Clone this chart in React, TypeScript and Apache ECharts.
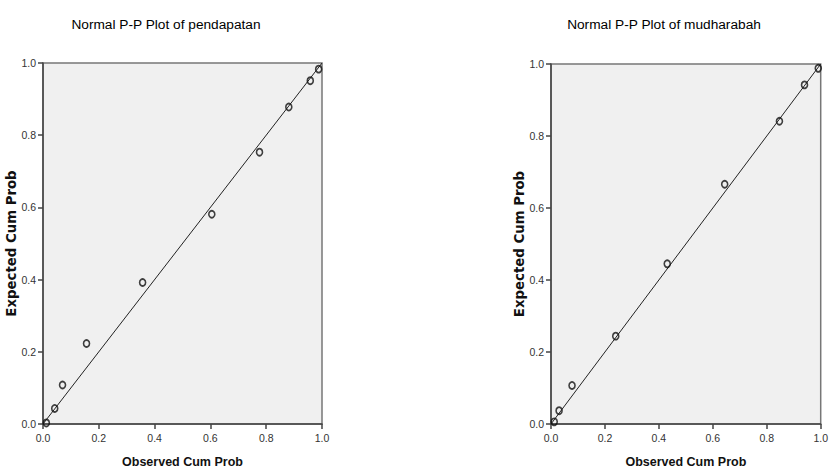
import React, { useEffect, useRef } from "react";
import * as echarts from "echarts";

const titles = ["Normal P-P Plot of pendapatan", "Normal P-P Plot of mudharabah"];
const xAxisName = "Observed Cum Prob";
const yAxisName = "Expected Cum Prob";

const pendapatanObserved = [0.012, 0.042, 0.07, 0.156, 0.357, 0.605, 0.776, 0.881, 0.958, 0.988];
const pendapatanExpected = [0.003, 0.043, 0.108, 0.223, 0.392, 0.581, 0.753, 0.878, 0.951, 0.983];

const mudharabahObserved = [0.012, 0.03, 0.078, 0.24, 0.431, 0.644, 0.847, 0.94, 0.991];
const mudharabahExpected = [0.006, 0.037, 0.107, 0.244, 0.445, 0.666, 0.841, 0.942, 0.988];

const diagonal = [
  [0, 0],
  [1, 1],
];

const tickFont = "'Liberation Sans Narrow', 'Liberation Sans', Arial, sans-serif";
const mainFont = "'Liberation Sans', Arial, sans-serif";

export default function App() {
  const ref = useRef<HTMLDivElement>(null);
  useEffect(() => {
    document.body.style.margin = "0";
    const chart = echarts.init(ref.current!, null, { renderer: "svg" });
    const grids = [
      { left: 43, top: 63, width: 279, height: 362 },
      { left: 551, top: 64, width: 279, height: 362 },
    ];
    const mkX = (i: number) => ({
      type: "value",
      gridIndex: i,
      min: 0,
      max: 1,
      interval: 0.2,
      name: xAxisName,
      nameLocation: "middle",
      nameGap: 31,
      nameTextStyle: { fontFamily: mainFont, fontWeight: "bold", fontSize: 12.5, color: "#111" },
      axisLine: { show: true, lineStyle: { color: "#444", width: 1.5 } },
      axisTick: { show: true, length: 5, lineStyle: { color: "#444", width: 1.5 } },
      axisLabel: {
        margin: 8,
        fontFamily: tickFont,
        fontSize: 10.5,
        color: "#333",
        formatter: (v: number) => v.toFixed(1),
      },
      splitLine: { show: false },
    });
    const mkY = (i: number) => ({
      type: "value",
      gridIndex: i,
      min: 0,
      max: 1,
      interval: 0.2,
      name: yAxisName,
      nameLocation: "middle",
      nameGap: 20,
      nameTextStyle: { fontFamily: "'DejaVu Sans', sans-serif", fontWeight: "bold", fontSize: 13.3, color: "#111" },
      axisLine: { show: true, lineStyle: { color: "#444", width: 1.5 } },
      axisTick: { show: true, length: 5, lineStyle: { color: "#444", width: 1.5 } },
      axisLabel: {
        margin: 7,
        fontFamily: tickFont,
        fontSize: 10.5,
        color: "#333",
        formatter: (v: number) => v.toFixed(1),
      },
      splitLine: { show: false },
    });
    const scatter = (i: number, xs: number[], ys: number[]) => ({
      type: "scatter",
      xAxisIndex: i,
      yAxisIndex: i,
      symbol: "circle",
      symbolSize: [6, 7],
      itemStyle: { color: "rgba(0,0,0,0)", borderColor: "#111", borderWidth: 1.7 },
      data: xs.map((x, k) => [x, ys[k]]),
      z: 3,
    });
    const line = (i: number) => ({
      type: "line",
      xAxisIndex: i,
      yAxisIndex: i,
      showSymbol: false,
      symbol: "none",
      lineStyle: { color: "#222", width: 1 },
      data: diagonal,
      z: 2,
    });
    const titleStyle = { fontFamily: mainFont, fontSize: 13.7, fontWeight: "normal", color: "#000" };
    chart.setOption({
      animation: false,
      backgroundColor: "#fff",
      title: [
        { text: titles[0], left: 161, top: 12, textAlign: "center", textStyle: titleStyle },
        { text: titles[1], left: 659, top: 12, textAlign: "center", textStyle: titleStyle },
      ],
      grid: grids.map((g) => ({
        ...g,
        show: true,
        backgroundColor: "#f0f0f0",
        borderColor: "#777",
        borderWidth: 1.5,
        containLabel: false,
      })),
      xAxis: [mkX(0), mkX(1)],
      yAxis: [mkY(0), mkY(1)],
      series: [
        line(0),
        scatter(0, pendapatanObserved, pendapatanExpected),
        line(1),
        scatter(1, mudharabahObserved, mudharabahExpected),
      ],
    });
    return () => chart.dispose();
  }, []);
  return <div ref={ref} style={{ width: 831, height: 473 }} />;
}
